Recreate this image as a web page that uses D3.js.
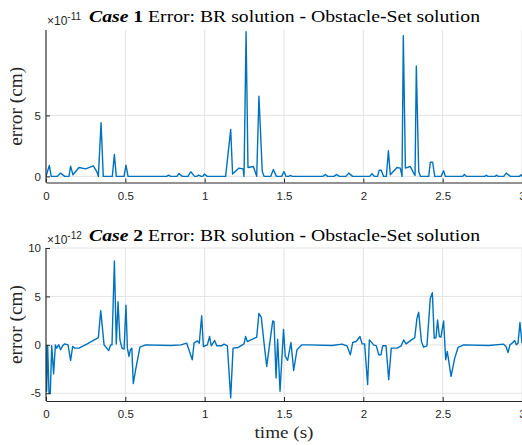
<!DOCTYPE html>
<html>
<head>
<meta charset="utf-8">
<script src="https://cdn.jsdelivr.net/npm/d3@7"></script>
<style>
  body { margin: 0; background: #fff; }
  svg { display: block; }
</style>
</head>
<body>
<svg id="chart" width="522" height="445"></svg>
<script>
// Shared time axis
const xTicks = [0, 0.5, 1, 1.5, 2, 2.5, 3];
const xTickLabels = ["0", "0.5", "1", "1.5", "2", "2.5", "3"];

// Case 1 error (units of 1e-11 cm)
const case1Time = [0, 0.021, 0.033, 0.07, 0.092, 0.118, 0.145, 0.155, 0.17, 0.208, 0.25, 0.298, 0.32, 0.33, 0.347, 0.361,
  0.418, 0.431, 0.443, 0.492, 0.504, 0.517, 0.76, 0.773, 0.786, 0.825, 0.838, 0.86, 0.895, 0.912, 0.937, 0.95, 0.962,
  0.979, 0.988, 0.998, 1.017, 1.132, 1.164, 1.176, 1.216, 1.242, 1.248, 1.261, 1.273, 1.307, 1.328, 1.342, 1.363,
  1.375, 1.416, 1.433, 1.452, 1.485, 1.5, 1.513, 1.53, 1.54, 1.552, 1.745, 1.76, 1.775, 1.815, 1.83, 1.849, 1.89,
  1.908, 1.933, 2.04, 2.055, 2.07, 2.09, 2.1, 2.113, 2.128, 2.145, 2.158, 2.17, 2.212, 2.233, 2.244, 2.252, 2.265,
  2.296, 2.317, 2.326, 2.334, 2.349, 2.36, 2.412, 2.422, 2.437, 2.45, 2.49, 2.506, 2.517, 2.625, 2.637, 2.65, 2.765,
  2.775, 2.785, 2.83, 2.839, 2.85, 2.885, 2.901, 2.927, 2.983, 2.996, 3];
const case1Error = [0, 0.9, 0, 0, 0.27, 0, 0, 0.84, 0.13, 0.73, 0.62, 0.86, 0.4, 0, 4.4, 0,
  0, 1.8, 0, 0, 0.92, 0, 0, 0.1, 0, 0, 0.24, 0, 0, 0.38, 0, 0, 0.1,
  0, 0, 0.19, 0, 0, 3.84, 0.2, 0.68, 0.62, 0, 11.86, 0.73, 0.81, 0, 6.57, 0.4,
  0, 0, 0.57, 0, 0, 0.4, 0, 0, 0.08, 0, 0, 0.16, 0, 0, 0.16, 0, 0,
  0.27, 0, 0, 0.22, 0, 0, 0.51, 0.51, 0, 0, 2.1, 0.14, 0.73, 0.68, 0, 11.54, 0.68,
  0.81, 0.27, 0.08, 9.05, 0.4, 0, 0, 1.16, 1.16, 0, 0, 0.46, 0, 0, 0.16, 0, 0,
  0.1, 0, 0, 0.1, 0, 0, 0.27, 0, 0, 0.14, 0];
const case1YTicks = [0, 5];

// Case 2 error (units of 1e-12 cm)
const case2Time = [0, 0.004, 0.0105, 0.019, 0.027, 0.036, 0.048, 0.059, 0.067, 0.08, 0.092, 0.105, 0.118, 0.139, 0.155,
  0.168, 0.181, 0.208, 0.26, 0.33, 0.345, 0.366, 0.395, 0.408, 0.416, 0.431, 0.443, 0.454, 0.466, 0.479, 0.492, 0.504,
  0.513, 0.523, 0.532, 0.541, 0.55, 0.565, 0.592, 0.628, 0.786, 0.849, 0.887, 0.922, 0.933, 0.954, 0.966, 0.981,
  0.992, 1.017, 1.031, 1.042, 1.063, 1.076, 1.105, 1.122, 1.143, 1.164, 1.179, 1.212, 1.248, 1.258, 1.269, 1.328,
  1.342, 1.357, 1.372, 1.391, 1.408, 1.429, 1.437, 1.45, 1.46, 1.475, 1.497, 1.508, 1.523, 1.544, 1.561, 1.582,
  1.613, 1.655, 1.803, 1.866, 1.897, 1.918, 1.933, 1.954, 1.962, 1.979, 1.992, 2.008, 2.027, 2.038, 2.065, 2.082,
  2.097, 2.111, 2.122, 2.143, 2.16, 2.176, 2.212, 2.239, 2.254, 2.269, 2.324, 2.338, 2.349, 2.366, 2.38, 2.401,
  2.422, 2.435, 2.447, 2.458, 2.468, 2.479, 2.489, 2.506, 2.519, 2.529, 2.553, 2.576, 2.597, 2.632, 2.79, 2.884,
  2.899, 2.912, 2.924, 2.937, 2.954, 2.964, 2.975, 2.987, 3];
const case2Error = [0, -4.8, -0.1, -5.0, -5.03, -0.1, -3.0, 0, -0.34, 0, -0.5, -0.1, 0.1, 0, -1.6,
  -0.17, -0.34, -0.34, 0.1, 0.75, 3.53, 0, -0.58, 0, 0, 8.66, 0.1, 4.45, 0.5, -0.34, -0.45, 4.1,
  -0.34, -1.2, -0.5, -0.34, -4.0, -2.57, -0.24, 0, -0.07, 0, 0.17, -1.54, 0.17, 0.41, 0.17, 3.0,
  -0.17, 0, 0.86, -0.1, 0.45, -0.1, -0.1, 0.07, -0.1, -5.48, -0.34, -0.27, 0.1, 0.86, 0.34, 0.79,
  3.25, 2.84, 0.51, -2.23, -0.1, 2.47, 2.4, -3.42, 0.58, -4.8, 1.6, -1.2, -1.6, 0.24, -2.64, -0.5,
  0, 0, -0.07, 0.07, -0.1, -1.03, 0.24, 0.34, 0.5, 0.86, 0.1, 0.1, -4.1, 0.51, 0, -0.1,
  -1.03, -1.03, -0.1, -0.1, -3.6, -0.34, -0.34, -0.1, 0.51, 0.1, 0.75, 2.74, 3.36, 0.34, -0.24, -0.1,
  4.8, 5.38, 0.68, 0.75, 2.57, 0.86, 0.79, 2.47, -1.54, -0.68, -3.25, -1.37, -0.27, 0, -0.07, 0.07,
  -0.17, -0.79, 0, 0.17, 0.45, 0, 0.17, 2.3, 0.17];
const case2YTicks = [-5, 0, 5, 10];

const LINE_COLOR = "#0072BD";
const INK = "#262626";
const GRID = "#e3e3e3";
const SERIF = "'Liberation Serif', 'DejaVu Serif', serif";
const SANS = "'Liberation Sans', Arial, sans-serif";

const svg = d3.select("#chart");
const x = d3.scaleLinear().domain([0, 3]).range([46, 522]);

const panels = [
  { id: 1, time: case1Time, values: case1Error, yDomain: [-0.5, 12], yRange: [182.5, 30],
    yTicks: case1YTicks, exponent: "-11", titleY: 22 },
  { id: 2, time: case2Time, values: case2Error, yDomain: [-5.8, 10], yRange: [401, 248],
    yTicks: case2YTicks, exponent: "-12", titleY: 241 }
];

// Clip for the y-axis labels, which run into the page's left edge
svg.append("defs").append("clipPath").attr("id", "ylabel-clip")
  .append("rect").attr("x", 10).attr("y", 0).attr("width", 40).attr("height", 445);

panels.forEach(p => {
  const y = d3.scaleLinear().domain(p.yDomain).range(p.yRange);
  const [bottom, top] = p.yRange;
  const g = svg.append("g");

  g.append("defs").append("clipPath").attr("id", "plot-clip-" + p.id)
    .append("rect").attr("x", x(0)).attr("y", top - 1)
    .attr("width", x(3) - x(0)).attr("height", bottom - top + 2);

  // grid
  g.append("g").selectAll("line").data(xTicks).join("line")
    .attr("x1", d => x(d)).attr("x2", d => x(d))
    .attr("y1", top).attr("y2", bottom)
    .attr("stroke", GRID).attr("stroke-width", 1);
  g.append("g").selectAll("line").data(p.yTicks).join("line")
    .attr("x1", x(0)).attr("x2", x(3))
    .attr("y1", d => y(d)).attr("y2", d => y(d))
    .attr("stroke", GRID).attr("stroke-width", 1);

  // series
  const pts = p.time.map((t, i) => [t, p.values[i]]);
  g.append("path").datum(pts)
    .attr("clip-path", `url(#plot-clip-${p.id})`)
    .attr("fill", "none").attr("stroke", LINE_COLOR).attr("stroke-width", 1.4)
    .attr("stroke-linejoin", "round")
    .attr("d", d3.line().x(d => x(d[0])).y(d => y(d[1])));

  // axes (ticks point inward)
  const xAxis = d3.axisBottom(x).tickValues(xTicks)
    .tickFormat((d, i) => xTickLabels[i]).tickSizeInner(-4).tickSizeOuter(0).tickPadding(9);
  const gx = g.append("g").attr("transform", `translate(0,${bottom})`).call(xAxis);
  const yAxis = d3.axisLeft(y).tickValues(p.yTicks).tickFormat(d3.format("d"))
    .tickSizeInner(-4).tickSizeOuter(0).tickPadding(5);
  const gy = g.append("g").attr("transform", `translate(${x(0)},0)`).call(yAxis);
  gy.select(".domain").attr("d", `M0,${top}V${bottom}`);
  [gx, gy].forEach(a => {
    a.select(".domain").attr("stroke", INK).attr("stroke-width", 1.1);
    a.selectAll(".tick line").attr("stroke", INK);
    a.selectAll(".tick text").attr("fill", INK).style("font-family", SANS).style("font-size", "11.5px");
  });
  gy.selectAll(".tick text").text(d => d < 0 ? "-" + Math.abs(d) : d);

  // exponent marker
  const ex = g.append("text").attr("x", 47).attr("y", p.titleY + 3)
    .attr("fill", INK).style("font-family", SANS).style("font-size", "12px");
  ex.append("tspan").text("\u00d710");
  ex.append("tspan").attr("dy", -5).style("font-size", "10px").text(p.exponent);

  // title
  const title = g.append("text").attr("x", 89).attr("y", p.titleY)
    .attr("fill", "#000").style("font-family", SERIF).style("font-size", "16px");
  title.append("tspan").style("font-weight", "bold").style("font-style", "italic").text("Case");
  title.append("tspan").style("font-weight", "bold").text(" " + p.id);
  title.append("tspan").text(" Error:  BR solution ");
  title.append("tspan").style("font-weight", "bold").text("-");
  title.append("tspan").text(" Obstacle");
  title.append("tspan").style("font-weight", "bold").text("-");
  title.append("tspan").text("Set solution");
  title.attr("textLength", 391).attr("lengthAdjust", "spacingAndGlyphs");

  // y label
  g.append("g").attr("clip-path", "url(#ylabel-clip)")
    .append("text")
    .attr("transform", `translate(22,${(top + bottom) / 2}) rotate(-90)`)
    .attr("text-anchor", "middle").attr("fill", INK)
    .style("font-family", SERIF).style("font-size", "18px")
    .attr("textLength", 79).attr("lengthAdjust", "spacingAndGlyphs")
    .text("error (cm)");
});

// x label
svg.append("text").attr("x", 284).attr("y", 438).attr("text-anchor", "middle")
  .attr("fill", INK).style("font-family", SERIF).style("font-size", "17px")
  .attr("textLength", 59).attr("lengthAdjust", "spacingAndGlyphs")
  .text("time (s)");
</script>
</body>
</html>
